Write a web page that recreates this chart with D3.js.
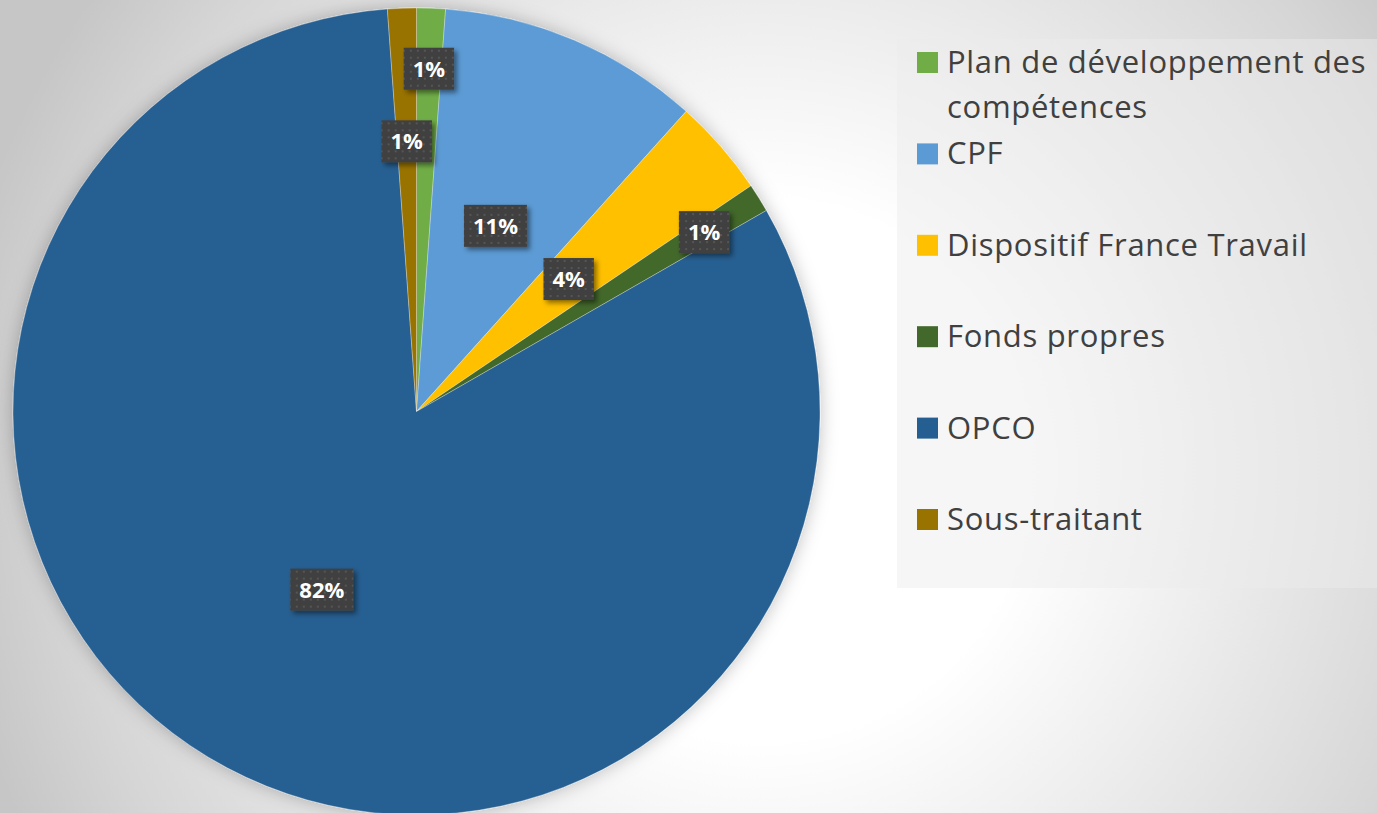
<!DOCTYPE html>
<html>
<head>
<meta charset="utf-8">
<script src="https://cdn.jsdelivr.net/npm/d3@7"></script>
<style>
  html, body { margin: 0; padding: 0; overflow: hidden; }
  svg { display: block; }
</style>
</head>
<body>
<div id="chart"></div>
<script>
// data
const categories = ['Plan de développement des compétences', 'CPF', 'Dispositif France Travail', 'Fonds propres', 'OPCO', 'Sous-traitant'];
const values = [1.15, 10.5, 3.9, 1.15, 82.15, 1.15];
const labels = ['1%', '11%', '4%', '1%', '82%', '1%'];
const colors = ['#70AD47', '#5B9BD5', '#FFC000', '#43682B', '#255E91', '#997300'];
// legend text split into lines as in the original
const legendLines = [['Plan de développement des', 'compétences'], ['CPF'], ['Dispositif France Travail'], ['Fonds propres'], ['OPCO'], ['Sous-traitant']];
// how far out (fraction of the radius) each data label sits
const labelRadius = [0.85, 0.5, 0.5, 0.84, 0.5, 0.67];

const width = 1377, height = 813;
const cx = 416.5, cy = 411.5, radius = 403.5;

const svg = d3.select('#chart')
    .append('svg')
    .attr('width', width)
    .attr('height', height);

const defs = svg.append('defs');

// slide background
const bg = defs.append('radialGradient')
    .attr('id', 'bg')
    .attr('gradientUnits', 'userSpaceOnUse')
    .attr('cx', 760).attr('cy', 470).attr('r', 820);
bg.append('stop').attr('offset', 0).attr('stop-color', '#ffffff');
bg.append('stop').attr('offset', 0.33).attr('stop-color', '#ffffff');
bg.append('stop').attr('offset', 0.55).attr('stop-color', '#eeeeee');
bg.append('stop').attr('offset', 0.85).attr('stop-color', '#d6d6d6');
bg.append('stop').attr('offset', 1).attr('stop-color', '#c6c6c6');

const pieShadow = defs.append('filter')
    .attr('id', 'pieShadow')
    .attr('x', '-10%').attr('y', '-10%').attr('width', '120%').attr('height', '120%');
pieShadow.append('feDropShadow')
    .attr('dx', 0).attr('dy', 0)
    .attr('stdDeviation', 9)
    .attr('flood-color', '#000')
    .attr('flood-opacity', 0.25);

const boxShadow = defs.append('filter')
    .attr('id', 'boxShadow')
    .attr('x', '-30%').attr('y', '-30%').attr('width', '160%').attr('height', '160%');
boxShadow.append('feDropShadow')
    .attr('dx', 3).attr('dy', 3)
    .attr('stdDeviation', 2.5)
    .attr('flood-color', '#000')
    .attr('flood-opacity', 0.45);

const dots = defs.append('pattern')
    .attr('id', 'dots')
    .attr('patternUnits', 'userSpaceOnUse')
    .attr('width', 7).attr('height', 7);
dots.append('rect').attr('width', 7).attr('height', 7).attr('fill', '#404040');
dots.append('rect').attr('x', 2).attr('y', 2).attr('width', 2).attr('height', 2).attr('fill', '#555555');

svg.append('rect')
    .attr('width', width)
    .attr('height', height)
    .attr('fill', 'url(#bg)');

// legend panel
svg.append('rect')
    .attr('x', 897).attr('y', 39)
    .attr('width', width - 897).attr('height', 549)
    .attr('fill', 'rgb(236,236,236)')
    .attr('fill-opacity', 0.47);

const pie = d3.pie()
    .sort(null)
    .value(d => d);

const arcs = pie(values);

const arc = d3.arc()
    .innerRadius(0)
    .outerRadius(radius);

const g = svg.append('g')
    .attr('transform', 'translate(' + cx + ',' + cy + ')');

g.append('g')
    .attr('filter', 'url(#pieShadow)')
    .selectAll('path')
    .data(arcs)
    .join('path')
    .attr('d', arc)
    .attr('fill', (d, i) => colors[i])
    .attr('stroke', '#ffffff')
    .attr('stroke-opacity', 0.4)
    .attr('stroke-width', 0.75);

// data labels
const lab = g.selectAll('.label')
    .data(arcs)
    .join('g')
    .attr('class', 'label')
    .attr('transform', (d, i) => {
        const r = radius * labelRadius[i];
        const c = d3.arc().innerRadius(r).outerRadius(r).centroid(d);
        return 'translate(' + c[0] + ',' + c[1] + ')';
    });

lab.append('rect')
    .attr('fill', 'url(#dots)')
    .attr('filter', 'url(#boxShadow)');

const boxText = lab.append('text')
    .attr('text-anchor', 'middle')
    .attr('dy', '0.36em')
    .attr('fill', '#ffffff')
    .style('font-family', '"Open Sans", sans-serif')
    .style('font-weight', 700)
    .style('font-size', '22px')
    .text((d, i) => labels[i]);

boxText.each(function() {
    const w = this.getComputedTextLength() + 18;
    d3.select(this.parentNode).select('rect')
        .attr('x', -w / 2).attr('y', -21)
        .attr('width', w).attr('height', 42);
});

// legend
const legend = svg.append('g')
    .selectAll('g')
    .data(categories)
    .join('g')
    .attr('transform', (d, i) => 'translate(917,' + (52 + i * 91.4) + ')');

legend.append('rect')
    .attr('width', 21)
    .attr('height', 21)
    .attr('fill', (d, i) => colors[i]);

legend.append('text')
    .attr('fill', '#404040')
    .style('font-family', '"Open Sans", sans-serif')
    .style('font-size', '31px')
    .style('letter-spacing', '0.7px')
    .selectAll('tspan')
    .data((d, i) => legendLines[i])
    .join('tspan')
    .attr('x', 30)
    .attr('y', (d, j) => 21 + j * 45)
    .text(d => d);
</script>
</body>
</html>
